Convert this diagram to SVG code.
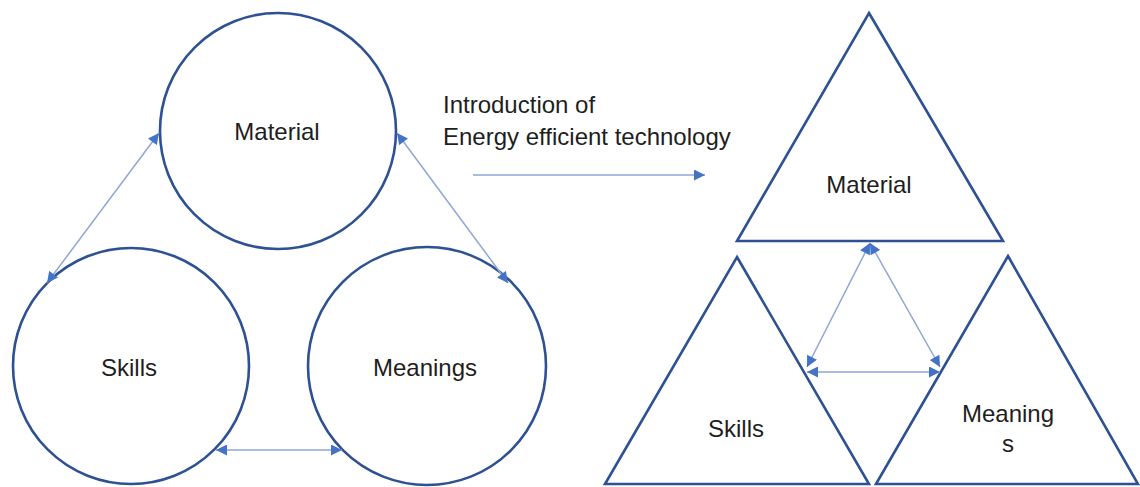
<svg xmlns="http://www.w3.org/2000/svg" width="1140" height="487" viewBox="0 0 1140 487">
  <defs>
    <style>
      .shape { fill: #ffffff; stroke: #2e5193; stroke-width: 2.6; }
      .label { font-family: "Liberation Sans", Arial, sans-serif; font-size: 24px; fill: #1e1e1e; text-anchor: middle; }
      .note { font-family: "Liberation Sans", Arial, sans-serif; font-size: 24px; fill: #1e1e1e; }
      .link { fill: none; stroke: #8fa6d6; stroke-width: 1.5; marker-start: url(#head); marker-end: url(#head); }
      .flow { fill: none; stroke: #8fa6d6; stroke-width: 1.5; marker-end: url(#head); }
    </style>
    <marker id="head" viewBox="0 0 10 10" refX="10" refY="5" markerWidth="12" markerHeight="11" markerUnits="userSpaceOnUse" orient="auto-start-reverse">
      <path d="M0,0 L10,5 L0,10 z" fill="#4472c4"/>
    </marker>
  </defs>

  <!-- Before: three practice elements as circles -->
  <g id="material-circle">
    <circle class="shape" cx="278" cy="131" r="118"/>
    <text class="label" x="277" y="140">Material</text>
  </g>
  <g id="skills-circle">
    <circle class="shape" cx="131" cy="366" r="118"/>
    <text class="label" x="129" y="376">Skills</text>
  </g>
  <g id="meanings-circle">
    <circle class="shape" cx="427" cy="366" r="119"/>
    <text class="label" x="425" y="376">Meanings</text>
  </g>

  <!-- Transition label -->
  <g id="transition">
    <text class="note" x="443" y="113">Introduction of</text>
    <text class="note" x="443" y="145">Energy efficient technology</text>
  </g>

  <!-- After: elements as triangles -->
  <g id="material-triangle">
    <polygon class="shape" points="869,13 1003,241 737,241"/>
    <text class="label" x="869" y="193">Material</text>
  </g>
  <g id="skills-triangle">
    <polygon class="shape" points="737,257 869,484 605,484"/>
    <text class="label" x="736" y="437">Skills</text>
  </g>
  <g id="meanings-triangle">
    <polygon class="shape" points="1008,256 1138,484 876,484"/>
    <text class="label" x="1008" y="422">Meaning</text>
    <text class="label" x="1008" y="452">s</text>
  </g>

  <!-- Connectors -->
  <g id="connectors">
    <line class="link" x1="47" y1="283" x2="159" y2="133"/>
    <line class="link" x1="397" y1="133" x2="508" y2="283"/>
    <line class="link" x1="216" y1="450" x2="342" y2="450"/>
    <line class="flow" x1="473" y1="175" x2="705" y2="175"/>
    <line class="link" x1="870" y1="243" x2="807" y2="367"/>
    <line class="link" x1="870" y1="243" x2="940" y2="367"/>
    <line class="link" x1="807" y1="372" x2="940" y2="372"/>
  </g>
</svg>
